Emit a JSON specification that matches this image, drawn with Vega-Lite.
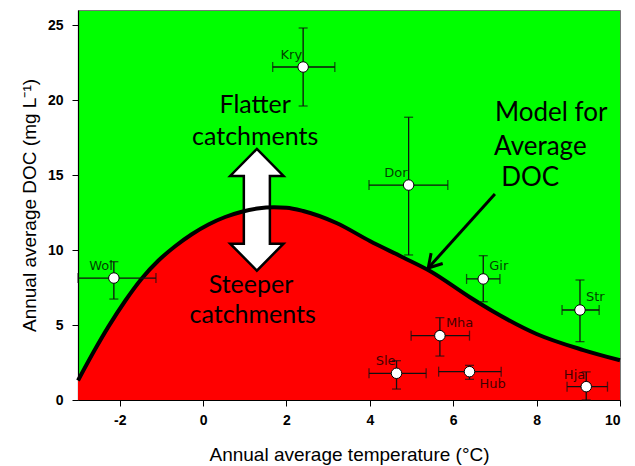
{
  "$schema": "https://vega.github.io/schema/vega-lite/v6.json",
  "width": 542,
  "height": 390,
  "autosize": "none",
  "padding": {"left": 78, "top": 10, "right": 15, "bottom": 66},
  "background": "white",
  "config": {
    "view": {"fill": "#00FF00", "stroke": "#777777", "strokeWidth": 1},
    "axis": {
      "grid": false,
      "domainColor": "black",
      "domainWidth": 1.2,
      "tickColor": "black",
      "tickSize": 6,
      "labelColor": "black",
      "labelFont": "Liberation Sans",
      "labelFontWeight": "bold",
      "labelFontSize": 14,
      "labelExpr": "'' + datum.value",
      "titleFont": "Liberation Sans",
      "titleFontWeight": "normal",
      "titleFontSize": 19,
      "titleColor": "black"
    }
  },
  "datasets": {
    "curve": [
      {"t": -3.0, "doc": 1.3},
      {"t": -2.6, "doc": 3.33},
      {"t": -2.27, "doc": 4.89},
      {"t": -1.87, "doc": 6.6},
      {"t": -1.47, "doc": 8.1},
      {"t": -1.07, "doc": 9.3},
      {"t": -0.67, "doc": 10.25},
      {"t": -0.27, "doc": 11.05},
      {"t": 0.13, "doc": 11.7},
      {"t": 0.53, "doc": 12.2},
      {"t": 0.93, "doc": 12.55},
      {"t": 1.3, "doc": 12.76},
      {"t": 1.7, "doc": 12.85},
      {"t": 2.0, "doc": 12.82},
      {"t": 2.4, "doc": 12.6},
      {"t": 3.2, "doc": 11.8},
      {"t": 4.0, "doc": 10.6},
      {"t": 4.8, "doc": 9.5},
      {"t": 5.44, "doc": 8.6},
      {"t": 6.4, "doc": 6.85},
      {"t": 6.96, "doc": 5.9},
      {"t": 8.0, "doc": 4.4},
      {"t": 9.12, "doc": 3.33},
      {"t": 10.0, "doc": 2.65}
    ],
    "sites": [
      {"site": "Wol", "t": -2.14, "doc": 8.13, "tlo": -3.0, "thi": -1.13, "dlo": 6.73, "dhi": 9.22},
      {"site": "Kry", "t": 2.4, "doc": 22.2, "tlo": 1.67, "thi": 3.16, "dlo": 19.6, "dhi": 24.8},
      {"site": "Dor", "t": 4.93, "doc": 14.33, "tlo": 3.98, "thi": 5.87, "dlo": 9.67, "dhi": 18.85},
      {"site": "Gir", "t": 6.72, "doc": 8.07, "tlo": 6.32, "thi": 7.12, "dlo": 6.55, "dhi": 9.62},
      {"site": "Str", "t": 9.04, "doc": 6.0, "tlo": 8.61, "thi": 9.5, "dlo": 3.89, "dhi": 8.0},
      {"site": "Mha", "t": 5.68, "doc": 4.29, "tlo": 4.99, "thi": 6.39, "dlo": 2.93, "dhi": 5.49},
      {"site": "Sle", "t": 4.64, "doc": 1.78, "tlo": 3.98, "thi": 5.35, "dlo": 0.73, "dhi": 2.62},
      {"site": "Hub", "t": 6.39, "doc": 1.89, "tlo": 5.65, "thi": 7.15, "dlo": 1.38, "dhi": 2.31},
      {"site": "Hja", "t": 9.19, "doc": 0.89, "tlo": 8.73, "thi": 9.7, "dlo": 0.0, "dhi": 1.87}
    ],
    "bigtext": [
      {"label": "Flatter", "t": 1.25, "doc": 19.67},
      {"label": "catchments", "t": 1.25, "doc": 17.53},
      {"label": "Steeper", "t": 1.15, "doc": 7.67},
      {"label": "catchments", "t": 1.19, "doc": 5.67}
    ],
    "modeltext": [
      {"label": "Model for", "t": 7.0, "doc": 19.13},
      {"label": "Average", "t": 6.98, "doc": 16.87},
      {"label": "DOC", "t": 7.15, "doc": 14.8}
    ],
    "whitearrow": [{"t": 1.29, "doc": 12.68}],
    "blackarrow": [{"t": 7.0, "doc": 13.73, "t2": 5.4, "doc2": 8.8}]
  },
  "layer": [
    {
      "data": {"name": "curve"},
      "mark": {"type": "area", "interpolate": "monotone", "color": "#FF0000", "opacity": 1},
      "encoding": {
        "x": {"field": "t", "type": "quantitative", "scale": {"domain": [-3, 10], "nice": false, "zero": false},
          "axis": {"values": [-2, 0, 2, 4, 6, 8, 10], "labelPadding": 7, "titlePadding": 18}, "title": "Annual average temperature (°C)"},
        "y": {"field": "doc", "type": "quantitative", "scale": {"domain": [0, 26], "nice": false},
          "axis": {"values": [0, 5, 10, 15, 20, 25], "labelPadding": 9, "titlePadding": 8}, "title": "Annual average DOC (mg L⁻¹)"}
      }
    },
    {
      "data": {"name": "whitearrow"},
      "mark": {"type": "point", "filled": true, "fill": "white", "stroke": "black", "strokeWidth": 2.5, "opacity": 1,
        "shape": "M 0 -1 L 0.438 -0.556 L 0.214 -0.556 L 0.214 0.556 L 0.438 0.556 L 0 1 L -0.438 0.556 L -0.214 0.556 L -0.214 -0.556 L -0.438 -0.556 Z",
        "size": 14811},
      "encoding": {
        "x": {"field": "t", "type": "quantitative", "title": "Annual average temperature (°C)"},
        "y": {"field": "doc", "type": "quantitative", "title": "Annual average DOC (mg L⁻¹)"}
      }
    },
    {
      "data": {"name": "curve"},
      "mark": {"type": "line", "interpolate": "monotone", "color": "black", "strokeWidth": 4},
      "encoding": {
        "x": {"field": "t", "type": "quantitative", "title": "Annual average temperature (°C)"},
        "y": {"field": "doc", "type": "quantitative", "title": "Annual average DOC (mg L⁻¹)"}
      }
    },
    {
      "data": {"name": "blackarrow"},
      "mark": {"type": "rule", "color": "black", "strokeWidth": 3},
      "encoding": {
        "x": {"field": "t", "type": "quantitative", "title": "Annual average temperature (°C)"},
        "y": {"field": "doc", "type": "quantitative", "title": "Annual average DOC (mg L⁻¹)"},
        "x2": {"field": "t2"},
        "y2": {"field": "doc2"}
      }
    },
    {
      "data": {"name": "blackarrow"},
      "mark": {"type": "point", "filled": false, "stroke": "black", "strokeWidth": 3, "opacity": 1,
        "shape": "M -0.6 -1 L 0 0 L 0.6 -1", "size": 676, "angle": 42},
      "encoding": {
        "x": {"field": "t2", "type": "quantitative", "title": "Annual average temperature (°C)"},
        "y": {"field": "doc2", "type": "quantitative", "title": "Annual average DOC (mg L⁻¹)"}
      }
    },
    {
      "data": {"name": "bigtext"},
      "mark": {"type": "text", "font": "Lato", "fontSize": 25, "color": "black", "align": "center", "baseline": "middle"},
      "encoding": {
        "x": {"field": "t", "type": "quantitative", "title": "Annual average temperature (°C)"},
        "y": {"field": "doc", "type": "quantitative", "title": "Annual average DOC (mg L⁻¹)"},
        "text": {"field": "label"}
      }
    },
    {
      "data": {"name": "modeltext"},
      "mark": {"type": "text", "font": "Lato", "fontSize": 26, "color": "black", "align": "left", "baseline": "middle"},
      "encoding": {
        "x": {"field": "t", "type": "quantitative", "title": "Annual average temperature (°C)"},
        "y": {"field": "doc", "type": "quantitative", "title": "Annual average DOC (mg L⁻¹)"},
        "text": {"field": "label"}
      }
    },
    {
      "data": {"name": "sites"},
      "mark": {"type": "errorbar", "ticks": true, "size": 9, "thickness": 1.3, "color": "#111111"},
      "encoding": {
        "x": {"field": "t", "type": "quantitative", "title": "Annual average temperature (°C)"},
        "y": {"field": "dlo", "type": "quantitative", "title": "Annual average DOC (mg L⁻¹)"},
        "y2": {"field": "dhi"}
      }
    },
    {
      "data": {"name": "sites"},
      "mark": {"type": "errorbar", "ticks": true, "size": 10, "thickness": 1.3, "color": "#111111"},
      "encoding": {
        "y": {"field": "doc", "type": "quantitative", "title": "Annual average DOC (mg L⁻¹)"},
        "x": {"field": "tlo", "type": "quantitative", "title": "Annual average temperature (°C)"},
        "x2": {"field": "thi"}
      }
    },
    {
      "data": {"name": "sites"},
      "mark": {"type": "point", "filled": true, "fill": "white", "stroke": "black", "strokeWidth": 1, "opacity": 1, "size": 110},
      "encoding": {
        "x": {"field": "t", "type": "quantitative", "title": "Annual average temperature (°C)"},
        "y": {"field": "doc", "type": "quantitative", "title": "Annual average DOC (mg L⁻¹)"}
      }
    },
    {
      "data": {"name": "sites"},
      "transform": [{"filter": "indexof(['Wol','Kry','Dor','Sle','Hja'], datum.site) >= 0"}],
      "mark": {"type": "text", "font": "DejaVu Sans", "fontSize": 13, "color": "black", "opacity": 0.75, "align": "right", "baseline": "middle", "dx": -1, "dy": -12},
      "encoding": {
        "x": {"field": "t", "type": "quantitative", "title": "Annual average temperature (°C)"},
        "y": {"field": "doc", "type": "quantitative", "title": "Annual average DOC (mg L⁻¹)"},
        "text": {"field": "site"}
      }
    },
    {
      "data": {"name": "sites"},
      "transform": [{"filter": "indexof(['Gir','Mha','Str'], datum.site) >= 0"}],
      "mark": {"type": "text", "font": "DejaVu Sans", "fontSize": 13, "color": "black", "opacity": 0.75, "align": "left", "baseline": "middle", "dx": 6, "dy": -13},
      "encoding": {
        "x": {"field": "t", "type": "quantitative", "title": "Annual average temperature (°C)"},
        "y": {"field": "doc", "type": "quantitative", "title": "Annual average DOC (mg L⁻¹)"},
        "text": {"field": "site"}
      }
    },
    {
      "data": {"name": "sites"},
      "transform": [{"filter": "datum.site == 'Hub'"}],
      "mark": {"type": "text", "font": "DejaVu Sans", "fontSize": 13, "color": "black", "opacity": 0.75, "align": "left", "baseline": "middle", "dx": 10, "dy": 12},
      "encoding": {
        "x": {"field": "t", "type": "quantitative", "title": "Annual average temperature (°C)"},
        "y": {"field": "doc", "type": "quantitative", "title": "Annual average DOC (mg L⁻¹)"},
        "text": {"field": "site"}
      }
    }
  ]
}
